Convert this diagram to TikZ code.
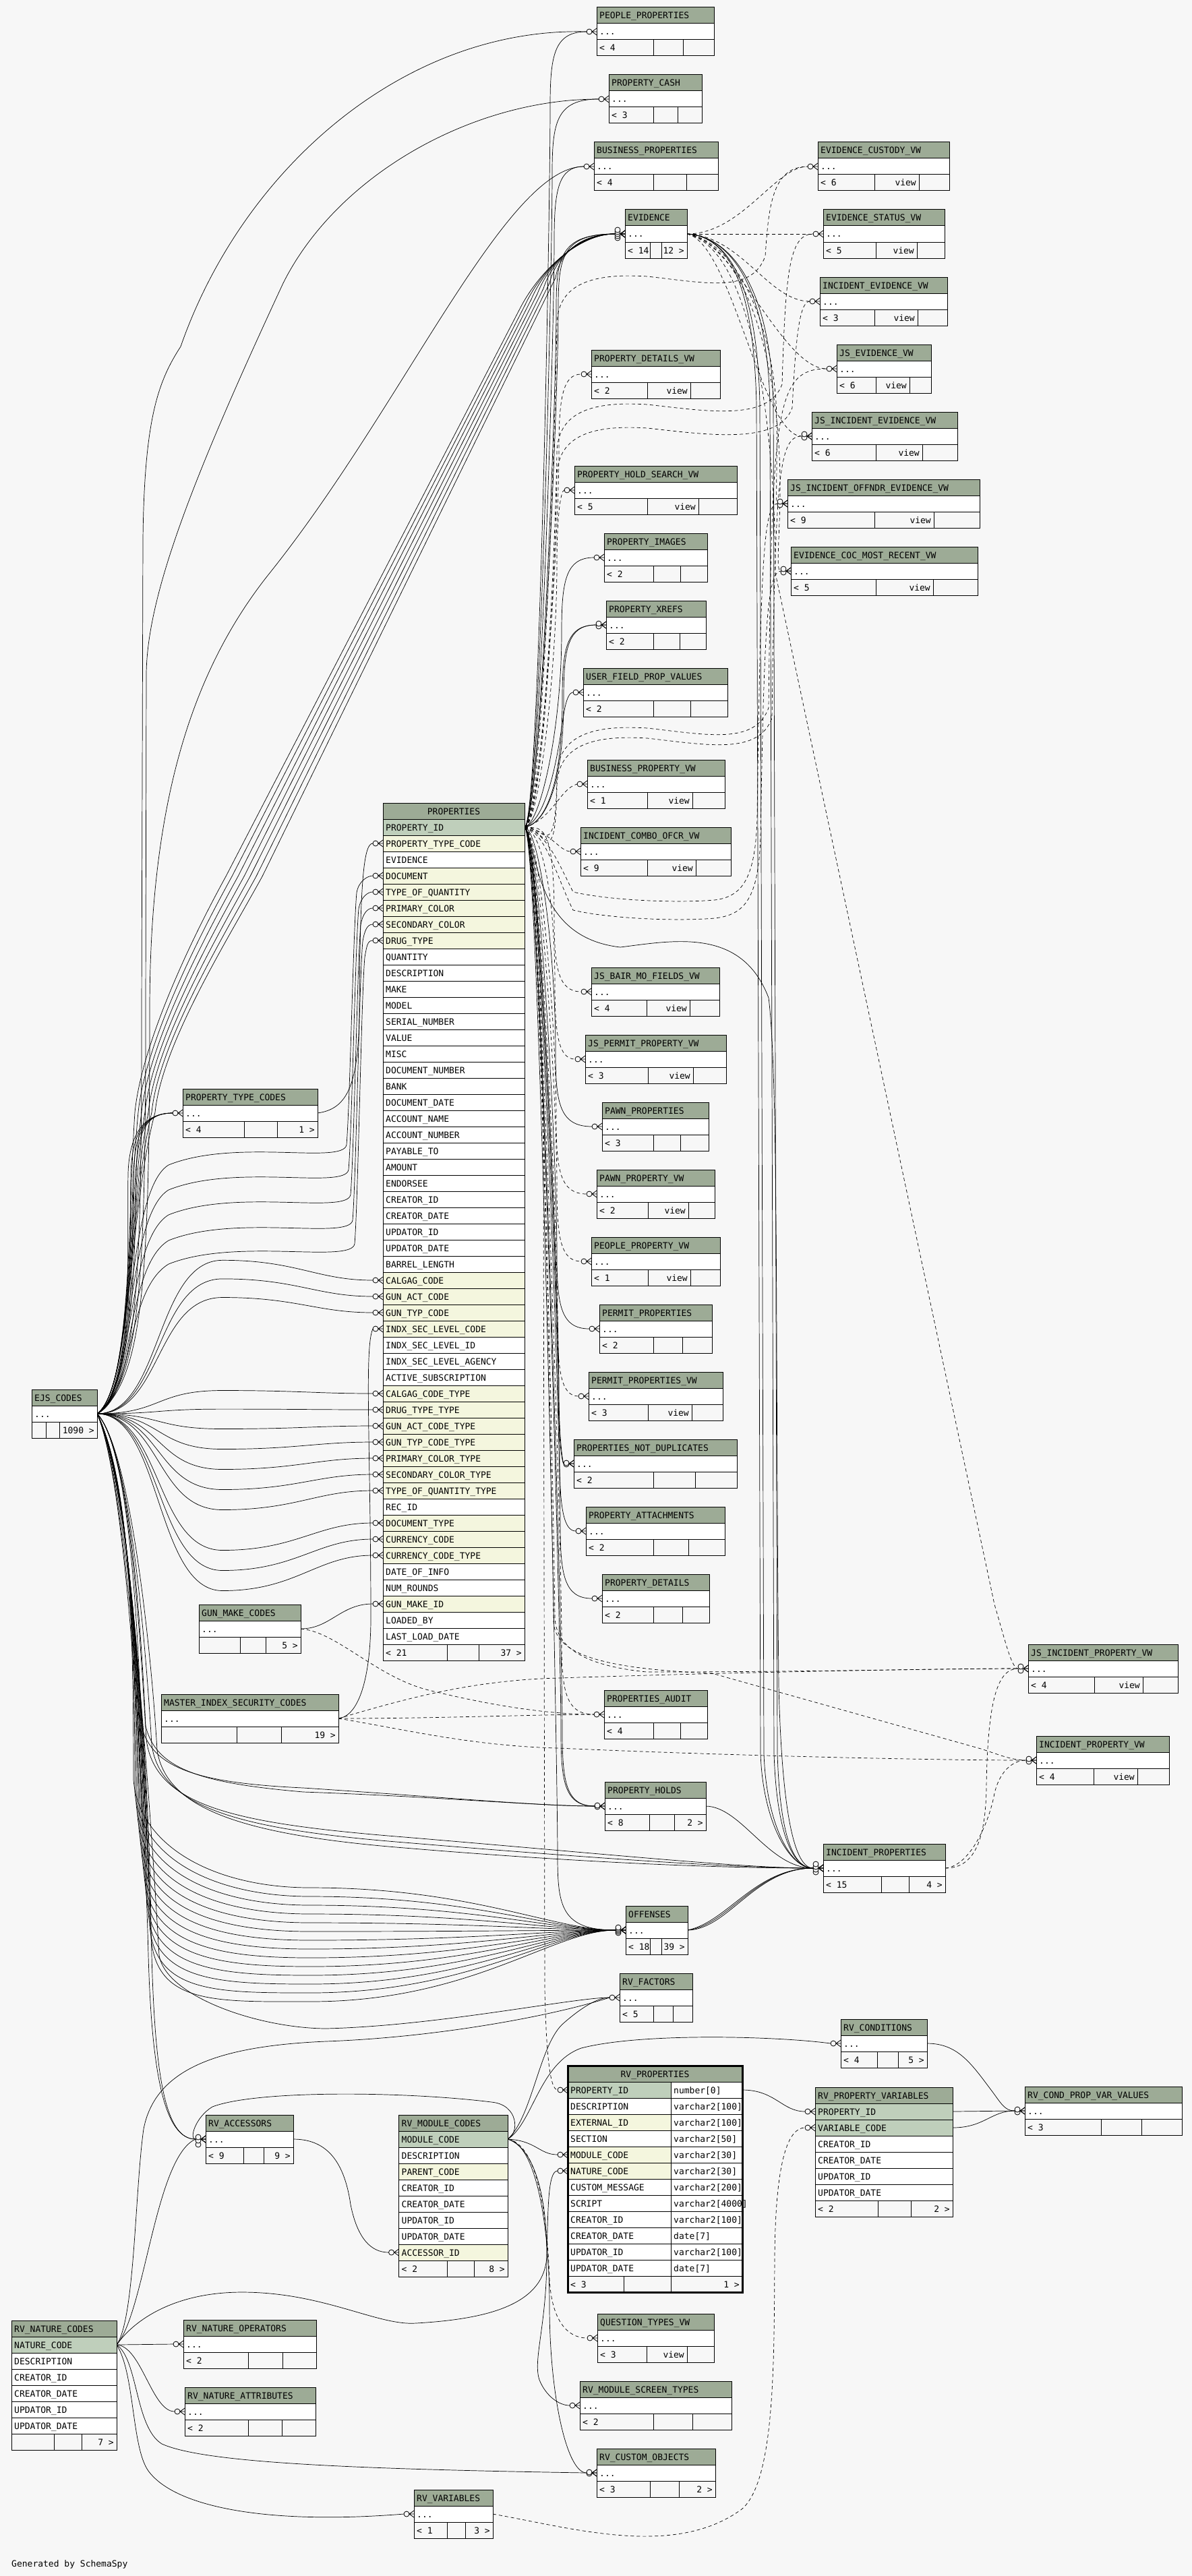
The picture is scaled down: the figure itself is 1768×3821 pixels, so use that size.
\documentclass[tikz,border=0pt]{standalone}
\usepackage{fontspec}
\newfontfamily\sfx{DejaVu Sans Mono}
\definecolor{bg}{RGB}{247,247,247}
\definecolor{hdrc}{RGB}{157,171,150}
\definecolor{rowk}{RGB}{191,207,187}
\definecolor{rowf}{RGB}{244,246,222}
\definecolor{rown}{RGB}{255,255,255}
\pgfdeclarelayer{bgl}
\pgfdeclarelayer{edges}
\pgfsetlayers{bgl,edges,main}
\tikzset{
 txt/.style={anchor=base west, inner sep=0pt, font=\sfx\fontsize{13pt}{13pt}\selectfont},
 txtr/.style={txt, anchor=base east},
 txtc/.style={txt, anchor=base},
 cell/.style={draw=black, line width=1pt},
 fkline/.style={draw=black, line width=0.7pt},
 vwline/.style={fkline, dash pattern=on 5pt off 4pt},
 mk/.style={draw=black, fill=bg, line width=0.8pt},
 ft/.style={draw=black, line width=0.8pt},
}
% compact table: id x1 y1 x2 d1 d2 title footL footR
\newcommand\ctab[9]{%
 \draw[cell, fill=hdrc] (#2,#3) rectangle (#4,#3+24);
 \node[txt] (#1-h) at (#2+4,#3+17) {#7};
 \draw[cell, fill=white] (#2,#3+24) rectangle (#4,#3+48);
 \node[txt] (#1-r) at (#2+4,#3+41) {...};
 \draw[cell, fill=bg] (#2,#3+48) rectangle (#4,#3+72);
 \draw[cell] (#5,#3+48) -- (#5,#3+72) (#6,#3+48) -- (#6,#3+72);
 \node[txt] (#1-fl) at (#2+4,#3+65) {#8};
 \node[txtr] (#1-fr) at (#4-4,#3+65) {#9};
 \coordinate (#1-E) at (#4,#3+36);
 \coordinate (#1-in) at (#2-15,#3+36);
}
\newcommand\vtab[8]{\ctab{#1}{#2}{#3}{#4}{#5}{#6}{#7}{#8}{}\node[txtr] (#1-fv) at (#6-4,#3+65) {view};}
% detailed rows: id x1 y0 x2 list
\newcommand\drows[5]{%
 \foreach \nm/\cc [count=\i from 0] in {#5} {
  \draw[cell, fill=row\cc] (#2,#3+24*\i) rectangle (#4,#3+24+24*\i);
  \node[txt] (#1-\i) at (#2+4,#3+17+24*\i) {\nm};
  \coordinate (#1-\i-E) at (#4,#3+12+24*\i);
  \coordinate (#1-\i-in) at (#2-15,#3+12+24*\i);
 }}
\newcommand\dfoot[8]{%
 \draw[cell, fill=bg] (#2,#3) rectangle (#4,#3+24);
 \draw[cell] (#5,#3) -- (#5,#3+24) (#6,#3) -- (#6,#3+24);
 \node[txt] (#1-fl) at (#2+4,#3+17) {#7};
 \node[txtr] (#1-fr) at (#4-4,#3+17) {#8};}
\newcommand\cf[2][0]{%
 \draw[ft] ([xshift=8pt]#2) -- ([xshift=15pt,yshift=5pt]#2) ([xshift=8pt]#2) -- ([xshift=15pt]#2) ([xshift=8pt]#2) -- ([xshift=15pt,yshift=-5pt]#2);
 \draw[mk] ([xshift=4pt,yshift=#1pt]#2) circle[radius=4pt];}
\newcommand\pu[4][fkline]{\draw[#1] (prop-0-E) .. controls (800,1224) and (#3,#4+260) .. (#3,#4+110) .. controls (#3,#4+35) and (#3+6,#4) .. (#2);}
\newcommand\pd[4][fkline]{\draw[#1] (prop-0-E) .. controls (800,1230) and (#3,#4-260) .. (#3,#4-110) .. controls (#3,#4-35) and (#3+6,#4) .. (#2);}
\newcommand\wup[4]{\draw[vwline] (prop-0-E) .. controls (805,1222) and (824,#3+200) .. (826,#3+60) .. controls (828,#3) and (880,#3-15) .. (960,#3-10) .. controls (1050,#3) and (#4-20,#3+15) .. (#4,#3-40) .. controls (#4+5,#2+60) and (#4+10,#2) .. (#1);}
\newcommand\wdn[4]{\draw[vwline] (prop-0-E) .. controls (810,1235) and (826,#3-60) .. (850,#3-12) .. controls (900,#3) and (1000,#3+5) .. (1060,#3) .. controls (#4-20,#3-5) and (#4,#3-30) .. (#4+3,#3-120) .. controls (#4+8,#2+100) and (#4+12,#2) .. (#1);}
\begin{document}
\begin{tikzpicture}[x=1pt,y=-1pt]
\useasboundingbox (0,0) rectangle (1768,3821);
\begin{pgfonlayer}{bgl}
\fill[bg] (0,0) rectangle (1768,3821);
\end{pgfonlayer}

% ---------------- tables ----------------
\ctab{pp}{885}{11}{1059}{969}{1013}{PEOPLE\_PROPERTIES}{< 4}{}
\ctab{pc}{903}{111}{1041}{969}{1005}{PROPERTY\_CASH}{< 3}{}
\ctab{bp}{881}{211}{1065}{969}{1018}{BUSINESS\_PROPERTIES}{< 4}{}
\ctab{ev}{927}{311}{1019}{964}{981}{EVIDENCE}{< 14}{12 >}
\vtab{ecv}{1213}{211}{1408}{1297}{1363}{EVIDENCE\_CUSTODY\_VW}{< 6}
\vtab{esv}{1221}{311}{1401}{1299}{1360}{EVIDENCE\_STATUS\_VW}{< 5}
\vtab{iev}{1216}{411}{1405}{1297}{1361}{INCIDENT\_EVIDENCE\_VW}{< 3}
\vtab{jev}{1241}{511}{1381}{1299}{1349}{JS\_EVIDENCE\_VW}{< 6}
\vtab{jiev}{1204}{611}{1420}{1299}{1368}{JS\_INCIDENT\_EVIDENCE\_VW}{< 6}
\vtab{jioev}{1168}{711}{1453}{1297}{1385}{JS\_INCIDENT\_OFFNDR\_EVIDENCE\_VW}{< 9}
\vtab{ecoc}{1173}{811}{1450}{1299}{1384}{EVIDENCE\_COC\_MOST\_RECENT\_VW}{< 5}
\vtab{pdv}{877}{519}{1068}{960}{1024}{PROPERTY\_DETAILS\_VW}{< 2}
\vtab{phsv}{852}{691}{1093}{960}{1036}{PROPERTY\_HOLD\_SEARCH\_VW}{< 5}
\ctab{pim}{896}{791}{1049}{969}{1009}{PROPERTY\_IMAGES}{< 2}{}
\ctab{pxr}{899}{891}{1047}{969}{1008}{PROPERTY\_XREFS}{< 2}{}
\ctab{ufpv}{865}{991}{1079}{969}{1024}{USER\_FIELD\_PROP\_VALUES}{< 2}{}
\vtab{bpv}{871}{1127}{1075}{960}{1027}{BUSINESS\_PROPERTY\_VW}{< 1}
\vtab{icov}{861}{1227}{1084}{960}{1032}{INCIDENT\_COMBO\_OFCR\_VW}{< 9}
\vtab{jbm}{877}{1435}{1067}{959}{1023}{JS\_BAIR\_MO\_FIELDS\_VW}{< 4}
\vtab{jpp}{868}{1535}{1077}{961}{1028}{JS\_PERMIT\_PROPERTY\_VW}{< 3}
\ctab{pawn}{893}{1635}{1051}{969}{1009}{PAWN\_PROPERTIES}{< 3}{}
\vtab{pawnv}{885}{1735}{1060}{961}{1021}{PAWN\_PROPERTY\_VW}{< 2}
\vtab{ppv}{877}{1835}{1068}{961}{1024}{PEOPLE\_PROPERTY\_VW}{< 1}
\ctab{perm}{889}{1935}{1056}{969}{1012}{PERMIT\_PROPERTIES}{< 2}{}
\vtab{permv}{873}{2035}{1072}{961}{1026}{PERMIT\_PROPERTIES\_VW}{< 3}
\ctab{pnd}{851}{2135}{1093}{969}{1031}{PROPERTIES\_NOT\_DUPLICATES}{< 2}{}
\ctab{pat}{869}{2235}{1075}{969}{1021}{PROPERTY\_ATTACHMENTS}{< 2}{}
\ctab{pdt}{893}{2335}{1052}{969}{1012}{PROPERTY\_DETAILS}{< 2}{}
\ctab{paud}{896}{2507}{1049}{969}{1009}{PROPERTIES\_AUDIT}{< 4}{}
\ctab{ph}{897}{2643}{1047}{963}{1000}{PROPERTY\_HOLDS}{< 8}{2 >}
\ctab{ip}{1221}{2735}{1402}{1307}{1348}{INCIDENT\_PROPERTIES}{< 15}{4 >}
\ctab{off}{928}{2827}{1020}{964}{981}{OFFENSES}{< 18}{39 >}
\ctab{rvf}{919}{2927}{1027}{969}{998}{RV\_FACTORS}{< 5}{}
\vtab{jipv}{1525}{2439}{1747}{1623}{1695}{JS\_INCIDENT\_PROPERTY\_VW}{< 4}
\vtab{ipv}{1537}{2575}{1734}{1622}{1687}{INCIDENT\_PROPERTY\_VW}{< 4}
\ctab{ptc}{271}{1615}{471}{362}{411}{PROPERTY\_TYPE\_CODES}{< 4}{1 >}
\ctab{ejs}{47}{2061}{144}{68}{88}{EJS\_CODES}{}{1090 >}
\ctab{gmc}{295}{2380}{446}{356}{394}{GUN\_MAKE\_CODES}{}{5 >}
\ctab{misc}{239}{2513}{502}{351}{417}{MASTER\_INDEX\_SECURITY\_CODES}{}{19 >}
\ctab{rva}{305}{3137}{435}{361}{391}{RV\_ACCESSORS}{< 9}{9 >}
\ctab{rvc}{1247}{2995}{1375}{1301}{1332}{RV\_CONDITIONS}{< 4}{5 >}
\ctab{rvcp}{1520}{3095}{1753}{1633}{1693}{RV\_COND\_PROP\_VAR\_VALUES}{< 3}{}
\vtab{qtv}{886}{3432}{1059}{959}{1019}{QUESTION\_TYPES\_VW}{< 3}
\ctab{rvmst}{860}{3532}{1085}{969}{1027}{RV\_MODULE\_SCREEN\_TYPES}{< 2}{}
\ctab{rvco}{885}{3632}{1061}{964}{1007}{RV\_CUSTOM\_OBJECTS}{< 3}{2 >}
\ctab{rvno}{272}{3441}{469}{368}{419}{RV\_NATURE\_OPERATORS}{< 2}{}
\ctab{rvna}{274}{3541}{468}{368}{418}{RV\_NATURE\_ATTRIBUTES}{< 2}{}
\ctab{rvv}{614}{3693}{731}{663}{690}{RV\_VARIABLES}{< 1}{3 >}

% PROPERTIES
\draw[cell, fill=hdrc] (568,1191) rectangle (778,1215);
\node[txtc] (prop-h) at (673,1208) {PROPERTIES};
\drows{prop}{568}{1215}{778}{PROPERTY\_ID/k,PROPERTY\_TYPE\_CODE/f,EVIDENCE/n,DOCUMENT/f,TYPE\_OF\_QUANTITY/f,PRIMARY\_COLOR/f,SECONDARY\_COLOR/f,DRUG\_TYPE/f,QUANTITY/n,DESCRIPTION/n,MAKE/n,MODEL/n,SERIAL\_NUMBER/n,VALUE/n,MISC/n,DOCUMENT\_NUMBER/n,BANK/n,DOCUMENT\_DATE/n,ACCOUNT\_NAME/n,ACCOUNT\_NUMBER/n,PAYABLE\_TO/n,AMOUNT/n,ENDORSEE/n,CREATOR\_ID/n,CREATOR\_DATE/n,UPDATOR\_ID/n,UPDATOR\_DATE/n,BARREL\_LENGTH/n,CALGAG\_CODE/f,GUN\_ACT\_CODE/f,GUN\_TYP\_CODE/f,INDX\_SEC\_LEVEL\_CODE/f,INDX\_SEC\_LEVEL\_ID/n,INDX\_SEC\_LEVEL\_AGENCY/n,ACTIVE\_SUBSCRIPTION/n,CALGAG\_CODE\_TYPE/f,DRUG\_TYPE\_TYPE/f,GUN\_ACT\_CODE\_TYPE/f,GUN\_TYP\_CODE\_TYPE/f,PRIMARY\_COLOR\_TYPE/f,SECONDARY\_COLOR\_TYPE/f,TYPE\_OF\_QUANTITY\_TYPE/f,REC\_ID/n,DOCUMENT\_TYPE/f,CURRENCY\_CODE/f,CURRENCY\_CODE\_TYPE/f,DATE\_OF\_INFO/n,NUM\_ROUNDS/n,GUN\_MAKE\_ID/f,LOADED\_BY/n,LAST\_LOAD\_DATE/n}
\dfoot{prop}{568}{2439}{778}{663}{710}{< 21}{37 >}

% RV_MODULE_CODES
\draw[cell, fill=hdrc] (591.5,3137) rectangle (753,3161);
\node[txt] (rvmc-h) at (595.5,3154) {RV\_MODULE\_CODES};
\drows{rvmc}{591.5}{3161}{753}{MODULE\_CODE/k,DESCRIPTION/n,PARENT\_CODE/f,CREATOR\_ID/n,CREATOR\_DATE/n,UPDATOR\_ID/n,UPDATOR\_DATE/n,ACCESSOR\_ID/f}
\dfoot{rvmc}{591.5}{3353}{753}{663}{703}{< 2}{8 >}

% RV_NATURE_CODES
\draw[cell, fill=hdrc] (17,3442) rectangle (173,3466);
\node[txt] (rvnc-h) at (21,3459) {RV\_NATURE\_CODES};
\drows{rvnc}{17}{3466}{173}{NATURE\_CODE/k,DESCRIPTION/n,CREATOR\_ID/n,CREATOR\_DATE/n,UPDATOR\_ID/n,UPDATOR\_DATE/n}
\dfoot{rvnc}{17}{3610}{173}{80}{121}{}{7 >}

% RV_PROPERTY_VARIABLES
\draw[cell, fill=hdrc] (1209,3096) rectangle (1413,3120);
\node[txt] (rvpv-h) at (1213,3113) {RV\_PROPERTY\_VARIABLES};
\drows{rvpv}{1209}{3120}{1413}{PROPERTY\_ID/k,VARIABLE\_CODE/k,CREATOR\_ID/n,CREATOR\_DATE/n,UPDATOR\_ID/n,UPDATOR\_DATE/n}
\dfoot{rvpv}{1209}{3264}{1413}{1302}{1351}{< 2}{2 >}

% RV_PROPERTIES
\draw[cell, fill=hdrc] (842,3064) rectangle (1101,3088);
\node[txtc] (rvp-h) at (971.5,3081) {RV\_PROPERTIES};
\foreach \nm/\tp/\cc [count=\i from 0] in {PROPERTY\_ID/number[0]/k,DESCRIPTION/varchar2[100]/n,EXTERNAL\_ID/varchar2[100]/f,SECTION/varchar2[50]/n,MODULE\_CODE/varchar2[30]/f,NATURE\_CODE/varchar2[30]/f,CUSTOM\_MESSAGE/varchar2[200]/n,SCRIPT/varchar2[4000]/n,CREATOR\_ID/varchar2[100]/n,CREATOR\_DATE/date[7]/n,UPDATOR\_ID/varchar2[100]/n,UPDATOR\_DATE/date[7]/n} {
 \draw[cell, fill=row\cc] (842,3088+24*\i) rectangle (995,3112+24*\i);
 \draw[cell, fill=white] (995,3088+24*\i) rectangle (1101,3112+24*\i);
 \node[txt] (rvp-\i) at (846,3105+24*\i) {\nm};
 \node[txt] (rvp-\i-t) at (999,3105+24*\i) {\tp};
 \coordinate (rvp-\i-E) at (1101,3100+24*\i);
 \coordinate (rvp-\i-in) at (827,3100+24*\i);
}
\dfoot{rvp}{842}{3376}{1101}{925}{995}{< 3}{1 >}
\draw[line width=3pt] (842,3064) rectangle (1101,3400);

\node[txt] (gen) at (17,3807) {Generated by SchemaSpy};

% ---------------- connectors ----------------
\begin{pgfonlayer}{edges}
% EJS -> PROPERTIES rows 3-7
\foreach \k/\ym/\vx in {3/1728/524,4/1765/527,5/1802/530,6/1840/533,7/1875/536} {
 \pgfmathsetmacro\ry{1227+24*\k}
 \draw[fkline] (ejs-E) .. controls (200,2070) and (185,\ym+40) .. (250,\ym) .. controls (350,\ym-40) and (\vx-15,\ym) .. (\vx-10,\ym-30) .. controls (\vx-5,\ym-90) and (\vx,\ry+80) .. (\vx+5,\ry+25) .. controls (\vx+8,\ry+8) and (545,\ry) .. (prop-\k-in);
}
% EJS -> PROPERTIES lower fk rows
\foreach \k in {28,29,30,35,36,37,38,39,40,41,43,44,45} {
 \pgfmathsetmacro\ry{1227+24*\k}
 \pgfmathsetmacro\ff{ifthenelse(\ry<2097,0.15,0.25)}
 \pgfmathsetmacro\my{\ry+\ff*(\ry-2097)}
 \draw[fkline] (ejs-E) .. controls (240,2097) and (230,\my) .. (330,\my) .. controls (440,\my) and (470,\ry) .. (prop-\k-in);
}
\draw[fkline] (ptc-E) .. controls (515,1645) and (532,1610) .. (533,1500) .. controls (534,1300) and (540,1251) .. (prop-1-in);
\draw[fkline] (gmc-E) .. controls (490,2416) and (505,2379) .. (prop-48-in);
\draw[fkline] (misc-E) .. controls (535,2545) and (550,2480) .. (550,2400) .. controls (550,2150) and (540,2000) .. (prop-31-in);
% EJS -> PROPERTY_TYPE_CODES
\foreach \d in {0,4,8,12} { \draw[fkline] (ejs-E) .. controls (200,2060) and (188+\d,1850) .. (190+\d,1740) .. controls (192+\d,1680) and (215,1651) .. (ptc-in); }
% EJS -> top tables
\draw[fkline] (ejs-E) .. controls (205,2050) and (210,1900) .. (210,1500) -- (212,800) .. controls (214,620) and (235,565) .. (268,514) .. controls (360,250) and (600,40) .. (pp-in);
\draw[fkline] (ejs-E) .. controls (208,2050) and (216,1900) .. (216,1500) -- (217,1000) .. controls (218,880) and (290,700) .. (420,420) .. controls (500,260) and (700,147) .. (pc-in);
\draw[fkline] (ejs-E) .. controls (212,2050) and (222,1900) .. (222,1500) .. controls (222,1200) and (280,1000) .. (400,850) .. controls (600,600) and (750,247) .. (bp-in);
\foreach \i in {0,...,6} {
 \draw[fkline] (ejs-E) .. controls (195,2060) and (190,1800) .. (200+5*\i,1650) .. controls (210+5*\i,1550) and (280+9*\i,1400) .. (335+9*\i,1300) -- (770+9*\i,460-8*\i) .. controls (800+5*\i,400-4*\i) and (860,347) .. (ev-in);
}
% EJS -> lower tables
\foreach \d in {0,6} { \draw[fkline] (ejs-E) .. controls (195,2150) and (205+\d,2450) .. (210+\d,2560) .. controls (225+\d,2625) and (300,2645) .. (450,2652+\d) .. controls (650,2665) and (800,2679) .. (ph-in); }
\foreach \d in {0,8,16} { \draw[fkline] (ejs-E) .. controls (195,2150) and (210+\d,2470) .. (217+\d,2580+\d) .. controls (230+\d,2680) and (350,2705+\d) .. (600,2725+\d) .. controls (900,2750+\d) and (1100,2771) .. (ip-in); }
\foreach \i in {0,...,13} {
 \pgfmathsetmacro\ya{2640+18*\i}
 \pgfmathsetmacro\yb{2800+13*\i}
 \pgfmathsetmacro\xa{198+2*\i}
 \draw[fkline] (ejs-E) .. controls (195,2200) and (\xa,\ya-200) .. (\xa,\ya) .. controls (\xa+8,\ya+100) and (320,\yb) .. (460,\yb) .. controls (700,\yb) and (820,2863) .. (off-in);
}
\draw[fkline] (ejs-E) .. controls (195,2200) and (230,2800) .. (236,2900) .. controls (245,2960) and (380,3008) .. (483,3009) .. controls (650,3005) and (850,2963) .. (rvf-in);
\foreach \d in {0,5} { \draw[fkline] (ejs-E) .. controls (190,2200) and (215+\d,2700) .. (220+\d,2900) .. controls (225+\d,3080) and (245,3173) .. (rva-in); }

% PROPERTY_ID -> children
\pu{pp-in}{816}{47}
\pu{pc-in}{819}{147}
\pu{bp-in}{822}{247}
\pu{ev-in}{825}{347}
\pu{ev-in}{828}{347}
\pu[vwline]{pdv-in}{829}{555}
\pu[vwline]{phsv-in}{826}{727}
\pu{pim-in}{833}{827}
\pu{pxr-in}{834}{927}
\pu{pxr-in}{836}{927}
\draw[fkline] (prop-0-E) .. controls (815,1215) and (830,1100) .. (836,1060) .. controls (840,1035) and (845,1027) .. (ufpv-in);
\draw[vwline] (prop-0-E) .. controls (820,1215) and (830,1170) .. (bpv-in);
\draw[vwline] (prop-0-E) .. controls (815,1232) and (830,1263) .. (icov-in);
\pd[vwline]{jbm-in}{822}{1471}
\pd[vwline]{jpp-in}{823}{1571}
\pd{pawn-in}{824}{1671}
\pd[vwline]{pawnv-in}{825}{1771}
\pd[vwline]{ppv-in}{826}{1871}
\pd{perm-in}{826}{1971}
\pd[vwline]{permv-in}{827}{2071}
\pd{pnd-in}{828}{2171}
\pd{pnd-in}{829}{2171}
\pd{pat-in}{830}{2271}
\pd{pdt-in}{831}{2371}
\pd[vwline]{paud-in}{833}{2543}
\pd{ph-in}{832}{2679}
\pd{ph-in}{834}{2679}
\pd{off-in}{827}{2863}
\draw[vwline] (prop-0-E) .. controls (800,1230) and (821,2200) .. (823,2400) .. controls (825,2440) and (860,2470) .. (959,2480) .. controls (1200,2480) and (1400,2475) .. (jipv-in);
\draw[vwline] (prop-0-E) .. controls (800,1230) and (819,2200) .. (821,2405) .. controls (823,2450) and (880,2475) .. (1056,2482) -- (1455,2594) .. controls (1480,2602) and (1500,2611) .. (ipv-in);
\draw[vwline] (prop-0-E) .. controls (795,1235) and (805,1500) .. (806,1700) -- (808,2950) .. controls (810,3040) and (815,3100) .. (rvp-0-in);
\draw[fkline] (prop-0-E) .. controls (800,1260) and (790,1390) .. (920,1405) .. controls (1000,1395) and (1100,1375) .. (1140,1480) .. controls (1155,1600) and (1150,2000) .. (1155,2500) .. controls (1160,2700) and (1180,2771) .. (ip-in);
% PROPERTY_ID -> evidence views
\wup{ecv-in}{247}{420}{1135}
\wup{esv-in}{347}{610}{1160}
\wup{iev-in}{447}{645}{1175}
\wup{jev-in}{547}{1090}{1140}
\wup{jiev-in}{647}{1105}{1145}
\wdn{jioev-in}{747}{1335}{1120}
\wdn{ecoc-in}{847}{1362}{1125}
% EVIDENCE -> children
\draw[vwline] (ev-E) -- (esv-in);
\draw[vwline] (ev-E) .. controls (1100,347) and (1150,247) .. (ecv-in);
\draw[vwline] (ev-E) .. controls (1100,350) and (1140,447) .. (iev-in);
\draw[vwline] (ev-E) .. controls (1090,355) and (1160,547) .. (jev-in);
\draw[vwline] (ev-E) .. controls (1085,360) and (1130,647) .. (jiev-in);
\draw[vwline] (ev-E) .. controls (1100,360) and (1150,500) .. (1152,620) .. controls (1153,700) and (1150,747) .. (jioev-in);
\draw[vwline] (ev-E) .. controls (1110,365) and (1157,550) .. (1157,720) .. controls (1157,800) and (1150,847) .. (ecoc-in);
\draw[vwline] (ev-E) .. controls (1120,370) and (1150,650) .. (1150,850) -- (1475,2380) .. controls (1490,2430) and (1500,2475) .. (jipv-in);
\foreach \d in {0,5,20,25} {\draw[fkline] (ev-E) .. controls (1080,350) and (1118+\d,420) .. (1122+\d,600) -- (1128+\d,2600) .. controls (1131+\d,2700) and (1170,2771) .. (ip-in);}
% incident properties and views
\draw[vwline] (ip-E) .. controls (1440,2771) and (1462,2740) .. (1463,2650) .. controls (1465,2520) and (1480,2475) .. (jipv-in);
\draw[vwline] (ip-E) .. controls (1440,2768) and (1468,2700) .. (1475,2660) .. controls (1482,2630) and (1500,2611) .. (ipv-in);
\draw[fkline] (ph-E) .. controls (1100,2680) and (1140,2771) .. (ip-in);
\foreach \d in {0,6,12} {\draw[fkline] (off-E) .. controls (1080,2862-\d) and (1120,2771) .. (ip-in);}
\draw[vwline] (misc-E) .. controls (600,2520) and (700,2492) .. (829,2489) .. controls (1100,2480) and (1400,2475) .. (jipv-in);
\draw[vwline] (misc-E) .. controls (600,2565) and (700,2590) .. (829,2593) .. controls (1100,2605) and (1400,2611) .. (ipv-in);
\draw[vwline] (misc-E) .. controls (650,2549) and (800,2543) .. (paud-in);
\draw[vwline] (gmc-E) .. controls (500,2420) and (560,2490) .. (640,2508) .. controls (750,2535) and (830,2543) .. (paud-in);
% RV group
\draw[fkline] (rva-E) .. controls (480,3173) and (510,3200) .. (520,3270) .. controls (530,3320) and (550,3341) .. (rvmc-7-in);
\draw[fkline] (rvmc-0-E) .. controls (770,3165) and (770,3122) .. (729,3118) .. controls (600,3102) and (380,3100) .. (315,3125) .. controls (290,3140) and (280,3173) .. (rva-in);
\draw[fkline] (rvmc-0-E) .. controls (795,3175) and (800,3196) .. (rvp-4-in);
\draw[fkline] (rvmc-0-E) .. controls (790,3185) and (811,3250) .. (811,3346) .. controls (811,3450) and (790,3500) .. (800,3530) .. controls (810,3555) and (830,3568) .. (rvmst-in);
\draw[fkline] (rvmc-0-E) .. controls (795,3180) and (815,3300) .. (815,3420) .. controls (815,3550) and (840,3668) .. (rvco-in);
\draw[vwline] (rvmc-0-E) .. controls (800,3180) and (812,3300) .. (815,3380) .. controls (818,3440) and (840,3468) .. (qtv-in);
\draw[fkline] (rvmc-0-E) .. controls (790,3150) and (800,3060) .. (862,3038) .. controls (950,3015) and (1150,3020) .. (rvc-in);
\draw[fkline] (rvmc-0-E) .. controls (790,3140) and (800,3030) .. (837,3000) .. controls (860,2980) and (885,2963) .. (rvf-in);
\draw[fkline] (rvnc-0-E) -- (rvno-in);
\draw[fkline] (rvnc-0-E) .. controls (210,3480) and (225,3577) .. (rvna-in);
\draw[fkline] (rvnc-0-E) .. controls (215,3430) and (230,3200) .. (rva-in);
\draw[fkline] (rvnc-0-E) .. controls (200,3440) and (200,3250) .. (213,3158) .. controls (230,3070) and (320,3035) .. (483,3028) .. controls (650,3022) and (820,2990) .. (rvf-in);
\draw[fkline] (rvnc-0-E) .. controls (200,3440) and (260,3400) .. (359,3400) .. controls (480,3400) and (560,3450) .. (617,3446) .. controls (720,3440) and (808,3420) .. (811,3346) .. controls (813,3280) and (812,3220) .. (rvp-5-in);
\draw[fkline] (rvnc-0-E) .. controls (205,3500) and (200,3600) .. (240,3625) .. controls (300,3652) and (500,3662) .. (rvco-in);
\draw[fkline] (rvnc-0-E) .. controls (200,3520) and (195,3630) .. (220,3665) .. controls (260,3720) and (400,3745) .. (rvv-in);
\draw[fkline] (rvp-0-E) .. controls (1150,3100) and (1160,3132) .. (rvpv-0-in);
\draw[fkline] (rvpv-0-E) -- (rvcp-in);
\draw[fkline] (rvpv-1-E) .. controls (1460,3156) and (1470,3131) .. (rvcp-in);
\draw[fkline] (rvc-E) .. controls (1420,3031) and (1440,3060) .. (1470,3100) .. controls (1485,3120) and (1490,3131) .. (rvcp-in);
\draw[vwline] (rvv-E) .. controls (850,3750) and (1000,3795) .. (1100,3722) .. controls (1150,3680) and (1148,3500) .. (1149,3350) .. controls (1150,3200) and (1170,3156) .. (rvpv-1-in);
\end{pgfonlayer}

% ---------------- markers ----------------
\cf{pp-in}\cf{pc-in}\cf{bp-in}
\cf[-6]{ev-in}\cf[-3]{ev-in}\cf{ev-in}\cf[3]{ev-in}\cf[6]{ev-in}
\cf{ecv-in}\cf{esv-in}\cf{iev-in}\cf{jev-in}\cf[-2]{jiev-in}\cf[3]{jiev-in}\cf[-2]{jioev-in}\cf[3]{jioev-in}\cf[-2]{ecoc-in}\cf[3]{ecoc-in}
\cf{pdv-in}\cf{phsv-in}\cf{pim-in}\cf[-2]{pxr-in}\cf[2]{pxr-in}\cf{ufpv-in}\cf{bpv-in}\cf{icov-in}
\cf{jbm-in}\cf{jpp-in}\cf{pawn-in}\cf{pawnv-in}\cf{ppv-in}\cf{perm-in}\cf{permv-in}
\cf[-1]{pnd-in}\cf[1]{pnd-in}\cf{pat-in}\cf{pdt-in}\cf{paud-in}\cf[-1]{ph-in}\cf[1]{ph-in}
\cf[-6]{ip-in}\cf[-2]{ip-in}\cf[2]{ip-in}\cf[6]{ip-in}
\cf[-4]{off-in}\cf[-2]{off-in}\cf{off-in}\cf[2]{off-in}\cf[4]{off-in}
\cf{rvf-in}\cf[-3]{jipv-in}\cf[3]{jipv-in}\cf[-2]{ipv-in}\cf[2]{ipv-in}\cf{ptc-in}
\foreach \k in {1,3,4,5,6,7,28,29,30,31,35,36,37,38,39,40,41,43,44,45,48} {\cf{prop-\k-in}}
\cf[-8]{rva-in}\cf[-2]{rva-in}\cf[3]{rva-in}\cf{rvc-in}\cf[-2]{rvcp-in}\cf[2]{rvcp-in}\cf{qtv-in}\cf{rvmst-in}\cf[-1]{rvco-in}\cf[1]{rvco-in}
\cf{rvno-in}\cf{rvna-in}\cf{rvv-in}\cf{rvp-0-in}\cf{rvp-4-in}\cf{rvp-5-in}\cf{rvpv-0-in}\cf{rvpv-1-in}\cf{rvmc-7-in}
\end{tikzpicture}
\end{document}
